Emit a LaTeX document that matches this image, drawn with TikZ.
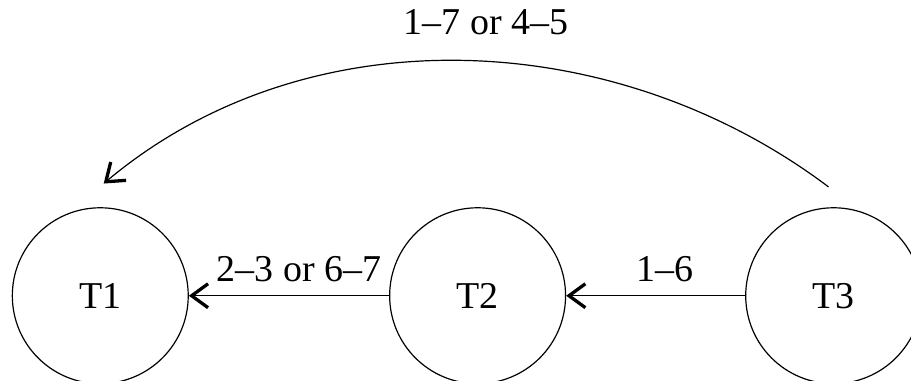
\documentclass[tikz,border=0pt]{standalone}
\usepackage{fontspec}
\setmainfont{Liberation Serif}
\usetikzlibrary{arrows.meta,positioning}

\begin{document}
\begin{tikzpicture}[
    task/.style={draw,circle,thin,minimum size=2.07cm,inner sep=0pt,
                 font=\fontsize{12.7}{15}\selectfont},
    edge lbl/.style={font=\fontsize{12.7}{15}\selectfont,above=1pt},
    arr/.style={thin,-{Straight Barb[length=5.5pt,width=8pt,line width=1.1pt]}}]
  \useasboundingbox (0,0) rectangle (10.72,4.48);

  % tasks
  \node[task] (T1) at (1.18,1.0) {T1};
  \node[task] (T2) at (5.62,1.0) {T2};
  \node[task] (T3) at (9.81,1.0) {T3};

  % ends of the long arc
  \coordinate (arcS) at (9.75,2.28);
  \coordinate (arcE) at (1.22,2.32);

  % transitions
  \draw[arr] (T2) -- (T1) node[edge lbl,pos=0.45] {2--3 or 6--7};
  \draw[arr] (T3) -- (T2) node[edge lbl,pos=0.45] {1--6};
  \draw[arr] (arcS) to[out=143,in=40,looseness=0.94]
    node[edge lbl,pos=0.47,above=5.5pt] {1--7 or 4--5} (arcE);
\end{tikzpicture}
\end{document}
